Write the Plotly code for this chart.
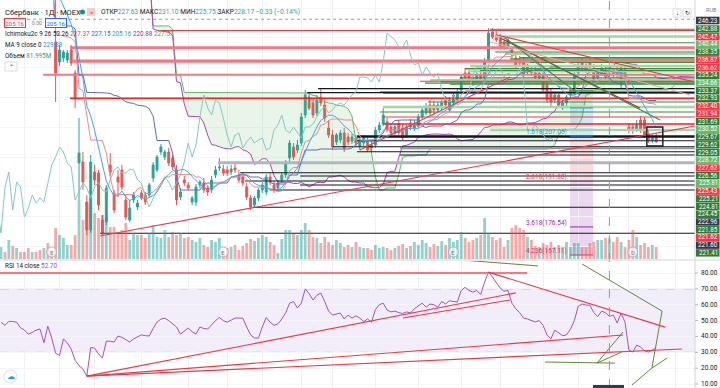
import pandas as pd
import plotly.graph_objects as go

W, H = 720, 388

# ---------------- price data (daily bars, RUB) ----------------
bars = list(range(169))
opens = [266.5, 268.0, 265.6, 268.8, 266.0, 267.0, 264.8, 263.0, 260.6, 262.0, 260.9, 259.3, 260.2, 256.7,
         238.60, 231.88, 233.22, 232.55, 235.91, 228.19, 197.99, 198.32, 184.90, 175.50, 194.97, 194.63, 178.86, 178.19,
         197.32, 187.92, 193.29, 195.64, 185.57, 178.86, 185.57, 183.22, 187.92, 187.25, 187.25, 192.95, 195.64, 201.68,
         200.00, 201.68, 199.66, 195.64, 186.58, 192.28, 190.60, 184.90, 184.90, 190.60, 191.28, 189.60, 188.93, 193.96,
         196.31, 195.97, 195.64, 194.97, 196.31, 193.96, 193.29, 189.93, 186.24, 183.89, 186.24, 188.93, 188.26, 193.29,
         190.60, 189.60, 192.28, 193.96, 199.66, 203.36, 202.35, 204.70, 214.10, 220.14, 218.12, 214.77, 220.14, 217.45,
         209.73, 207.38, 205.04, 205.71, 208.06, 206.71, 205.37, 206.38, 203.69, 204.70, 205.71, 204.03, 204.03, 209.06,
         211.08, 211.75, 210.07, 208.06, 211.08, 209.73, 207.38, 211.41, 209.73, 210.40, 213.42, 214.77, 217.45, 217.45,
         215.77, 216.44, 219.13, 215.77, 218.12, 219.13, 222.49, 228.19, 228.19, 226.51, 225.84, 227.52, 226.51, 232.55,
         241.95, 240.94, 240.27, 238.60, 236.92, 235.91, 233.22, 232.55, 231.88, 228.53, 229.20, 229.20, 226.51, 227.52,
         224.16, 221.82, 219.13, 220.81, 216.44, 218.12, 220.81, 221.82, 228.19, 231.88, 230.88, 231.88, 229.87, 226.51,
         228.19, 229.20, 227.63, 228.53, 229.20, 224.16, 229.20, 210.07, 210.07, 209.06, 212.42, 212.42, 207.38, 205.71, 207.05]
highs = [268.8, 268.6, 269.5, 269.2, 267.9, 267.4, 265.5, 263.6, 262.8, 262.5, 261.3, 261.0, 260.6, 258.9,
         254.0, 237.59, 235.91, 235.91, 237.59, 229.20, 213.09, 201.68, 187.25, 200.67, 197.32, 195.64, 180.54, 190.60,
         201.34, 188.93, 195.64, 197.32, 187.25, 185.57, 188.26, 185.57, 188.93, 188.26, 191.28, 198.32, 200.67, 204.36,
         202.35, 203.02, 200.67, 197.32, 189.60, 193.62, 191.61, 186.91, 190.94, 192.28, 192.95, 190.60, 193.62, 196.98,
         199.66, 197.32, 196.98, 197.32, 197.65, 195.64, 194.97, 191.28, 187.25, 186.91, 189.60, 191.61, 194.30, 194.63,
         191.95, 192.28, 194.97, 198.99, 205.71, 204.70, 205.71, 214.77, 222.49, 221.82, 219.80, 220.81, 223.16, 219.13,
         212.42, 209.06, 208.06, 209.06, 209.73, 208.06, 207.72, 207.38, 206.71, 207.38, 207.05, 205.37, 210.07, 211.75,
         216.44, 213.09, 211.41, 211.08, 212.42, 211.08, 210.74, 212.75, 212.42, 214.43, 216.44, 218.12, 219.13, 218.79,
         218.46, 219.13, 220.47, 220.14, 221.82, 223.16, 227.86, 229.87, 229.20, 227.86, 228.53, 228.53, 233.22, 243.29,
         243.29, 242.29, 241.28, 239.94, 240.27, 237.25, 234.57, 233.90, 233.22, 231.21, 230.54, 230.54, 229.87, 229.20,
         225.17, 223.16, 221.82, 221.82, 219.13, 220.81, 223.16, 228.53, 231.88, 233.22, 232.55, 233.22, 231.21, 229.87,
         231.21, 230.54, 231.10, 229.87, 230.54, 231.21, 230.54, 211.41, 211.08, 212.42, 213.76, 213.42, 208.73, 207.72, 208.06]
lows = [265.2, 265.0, 265.2, 265.4, 265.0, 264.2, 262.6, 260.1, 259.9, 260.2, 258.7, 258.6, 256.0, 255.8,
        218.46, 230.54, 231.88, 231.55, 230.54, 216.44, 185.57, 188.93, 173.82, 174.49, 190.60, 182.21, 173.49, 177.18,
        193.62, 181.21, 186.58, 188.93, 178.86, 178.19, 184.56, 182.21, 185.57, 183.89, 186.24, 191.61, 194.97, 200.67,
        198.99, 196.98, 195.64, 183.89, 185.57, 190.27, 188.93, 183.89, 183.56, 189.60, 187.92, 186.91, 187.92, 192.95,
        195.30, 193.62, 193.62, 193.96, 194.63, 191.28, 190.27, 185.57, 182.21, 182.88, 185.23, 187.92, 187.25, 190.60,
        187.92, 188.59, 191.28, 192.95, 198.32, 198.99, 201.34, 203.69, 213.09, 215.77, 213.09, 213.76, 217.12, 211.75,
        206.38, 202.35, 204.03, 204.70, 201.68, 204.03, 204.36, 203.69, 202.35, 203.69, 201.68, 201.68, 203.02, 208.06,
        210.40, 208.39, 206.71, 207.38, 207.38, 205.71, 206.38, 209.06, 208.73, 209.73, 212.75, 214.10, 213.76, 214.43,
        215.10, 215.77, 216.44, 215.10, 217.45, 218.46, 221.82, 225.84, 225.51, 223.83, 224.84, 224.16, 225.84, 231.55,
        239.60, 238.60, 235.91, 235.91, 236.25, 233.22, 229.87, 230.54, 226.51, 227.86, 227.18, 225.84, 225.84, 221.48,
        218.12, 217.12, 218.12, 216.44, 215.77, 217.12, 219.80, 220.81, 227.18, 229.20, 228.19, 229.20, 224.84, 225.84,
        227.18, 225.84, 225.75, 226.51, 226.51, 223.16, 224.84, 208.06, 207.72, 208.39, 208.06, 206.38, 204.70, 204.70, 204.70]
closes = [268.0, 265.8, 268.9, 266.0, 267.2, 264.8, 263.1, 260.6, 262.1, 260.9, 259.3, 260.4, 256.7, 258.2,
          228.19, 235.91, 235.24, 234.90, 231.55, 219.80, 201.34, 191.61, 175.50, 198.32, 192.28, 183.89, 174.49, 189.60,
          194.97, 182.21, 191.61, 189.93, 179.86, 182.88, 187.25, 184.56, 186.24, 184.90, 190.60, 197.32, 200.00, 203.36,
          201.68, 197.99, 196.64, 185.57, 188.26, 191.28, 189.60, 186.24, 189.93, 191.61, 188.93, 188.26, 192.28, 195.64,
          196.64, 194.63, 194.63, 195.97, 195.64, 192.28, 191.28, 186.58, 183.22, 186.24, 188.93, 190.60, 193.29, 191.61,
          188.93, 191.28, 193.96, 198.32, 204.70, 200.00, 204.03, 213.42, 220.81, 216.44, 214.10, 219.13, 218.12, 213.09,
          207.38, 203.36, 207.38, 208.06, 203.02, 205.04, 206.71, 204.70, 205.71, 206.38, 202.35, 203.02, 209.06, 210.74,
          214.10, 209.06, 208.06, 210.07, 208.06, 206.38, 210.07, 210.07, 211.08, 213.42, 215.77, 216.78, 214.77, 215.77,
          217.45, 218.12, 217.45, 219.13, 220.81, 221.82, 226.85, 226.85, 226.51, 225.17, 227.52, 225.17, 231.88, 241.62,
          240.27, 239.27, 236.92, 236.92, 239.27, 234.23, 230.88, 231.55, 227.52, 230.20, 228.19, 226.85, 228.19, 222.49,
          219.13, 218.46, 220.81, 217.45, 218.12, 220.14, 222.49, 227.52, 230.20, 230.20, 229.20, 230.20, 225.84, 229.20,
          229.87, 226.85, 228.17, 227.52, 227.52, 229.87, 225.84, 209.06, 209.06, 210.74, 209.06, 207.38, 205.71, 206.38, 205.16]
volume_m = [48, 28, 76, 52, 44, 28, 28, 44, 28, 28, 36, 44, 64, 28,
            124, 96, 84, 56, 56, 96, 236, 156, 224, 216, 184, 164, 176, 168,
            128, 128, 108, 116, 144, 76, 104, 96, 96, 84, 104, 136, 88, 84,
            116, 88, 108, 96, 104, 84, 88, 76, 68, 84, 56, 48, 76, 68,
            84, 28, 44, 48, 56, 36, 52, 64, 80, 72, 84, 96, 88, 68,
            56, 24, 80, 116, 116, 100, 96, 116, 144, 116, 88, 84, 64, 88,
            68, 56, 76, 64, 48, 56, 48, 68, 48, 44, 44, 36, 56, 44,
            48, 44, 36, 44, 52, 60, 44, 52, 68, 56, 76, 64, 48, 60,
            52, 72, 56, 84, 68, 76, 108, 84, 68, 76, 84, 96, 164, 104,
            88, 76, 84, 48, 76, 124, 136, 124, 116, 88, 76, 52, 48, 64,
            56, 68, 48, 56, 48, 68, 48, 64, 64, 48, 48, 64, 68, 76,
            76, 84, 81.995, 68, 88, 68, 48, 76, 116, 88, 56, 64, 48, 56, 48]
rsi14 = [49, 47, 49.5, 49.5, 49, 45.5, 44, 41.5, 42.5, 44, 44.7, 36, 46.5, 39,
         29.5, 28, 38.4, 36, 32, 25, 21.5, 19.5, 15, 33, 32.7, 29, 26.4,
         37, 37, 36.5, 40.3, 39.5, 38, 36.5, 38.5, 40, 41, 40.5, 40.3, 45, 49,
         51, 51.5, 50, 48, 46, 41.5, 43.5, 45.3, 43, 41.5, 46, 45, 44.7, 47.5, 50,
         52, 50, 49, 50.5, 51.6, 51.6, 51.5, 46, 41, 39, 39, 46, 52, 49, 47,
         48, 51, 55, 61, 62, 58, 61, 70, 67, 63, 66, 67.4, 62, 56, 53.5,
         54, 54.8, 51, 53.5, 51.6, 53, 51.6, 49.5, 51, 49, 57, 60, 61, 56.7, 55.5,
         56, 55, 54.5, 55.5, 54.8, 57.5, 59, 61, 58.5, 60.5, 60, 58.5, 62, 60.5, 62.5,
         62, 61.7, 69, 71, 69, 68, 69, 66.5, 74.3, 80.6, 77.5, 74, 70.5, 68.5, 69,
         61, 57.5, 55, 51.6, 51, 50, 49.2, 50, 47, 41, 38.5, 44, 42.5, 40.5, 41,
         44.5, 50, 59, 60.5, 59.8, 59.8, 55, 52.5, 56, 55, 52.7, 53.5, 48.5, 54.8, 49,
         31.4, 30.2, 34.6, 33.3, 31, 30.2, 31.4, 32.7]
for arr in (opens, highs, lows, closes, volume_m, rsi14):
    assert len(arr) == len(bars), len(arr)

# ---------------- user drawings ----------------
level_prices = [242.88, 242.47, 240.44, 238.35, 236.87, 236.62, 235.24, 234.66, 233.37, 232.93,
                232.40, 231.94, 231.69, 230.52, 229.67, 229.62, 229.05, 228.72, 227.62, 226.56,
                225.81, 225.43, 225.21, 224.81, 224.45, 222.96, 221.85, 221.62, 221.60, 221.41]
level_start = [125.4, 40.8, 126.7, 128, 17.7, 17.7, 126.7, 129.2, 133, 130.5,
               18.5, 18.5, 135.6, 120.3, 119, 119, 122.8, 120.3, 10.8, 117.7,
               110, 107.4, 112.6, 108.7, 115.1, 81.3, 97.2, 98, 78.5, 98]
level_kind = ["g", "r", "gl", "g", "rr", "rr", "g", "gl", "g", "g",
              "rr", "rr", "g", "gl", "g", "g", "g", "gl", "rr", "g",
              "gl", "r", "g", "g", "g", "k", "g", "r", "k", "g"]
extra_prices = [219.70, 218.46, 216.78, 215.10, 213.42, 211.08, 209.06, 206.90, 205.47, 203.46,
                202.92, 201.78, 200.67, 198.09, 194.73, 193.62, 191.95, 190.60, 188.93, 183.12, 174.39]
extra_start = [17.7, 109.5, 98, 97.2, 98, 98, 125.4, 91.3, 91.3, 85.1,
               102.3, 91.3, 102.3, 55.6, 61.3, 76.7, 62.6, 76.7, 69, 64.6, 25.4]
extra_kind = ["rb", "g", "gl", "g", "r", "rb", "gl", "kk", "k", "k",
              "gr", "k", "k", "grt", "k", "k", "k", "k", "k", "k", "k"]
crosshair_price = 246.23
crosshair_bar = 156

trend_b0 = [25.4, 92.0, 127.2, 128.0, 129.2, 130.5, 125.4]
trend_p0 = [173.49, 202.35, 240.94, 239.94, 239.94, 238.60, 238.60]
trend_b1 = [177.95, 130.5, 177.9, 163.8, 148.5, 169.0, 176.7]
trend_p1 = [210.40, 226.85, 225.17, 216.44, 220.81, 212.42, 220.81]
trend_kind = ["r", "r", "r", "dr", "g", "g", "lr"]

fib_ratio = ["0.618", "1", "1.618", "2.618", "3.618", "4.236"]
fib_price = [222.30, 216.47, 207.05, 191.80, 176.54, 167.11]
fib_bar0, fib_bar1 = 145.9, 151.8

box_bars = [165.6, 169.7]
box_prices = [203.69, 210.07]

rsi_line_b0 = [-0.26, 22, 22, 22, 103.1, 124.9]
rsi_line_v0 = [80.0, 15.0, 15.0, 15.0, 51.6, 80.6]
rsi_line_b1 = [134.9, 132.0, 159.5, 174.6, 130.5, 170.3]
rsi_line_v1 = [80.0, 67.5, 40.9, 32.1, 63.0, 45.9]
rsi_line_kind = ["rr", "r", "r", "r", "r", "r"]
rsi_g_b0 = [118.2, 149.0, 169.5, 139.5, 152.8, 152.8, 166.9, 161.8]
rsi_g_v0 = [88.2, 85.7, 56.0, 23.9, 23.2, 23.2, 20.1, 9.4]
rsi_g_b1 = [137.7, 169.5, 166.9, 157.4, 159.2, 159.5, 170.8, 166.9]
rsi_g_v1 = [84.5, 56.0, 20.1, 23.2, 30.2, 42.8, 26.4, 20.1]

event_bars = [13, 57, 116, 162]
event_kind = ["E", "E", "E", "D"]
grid_bars = [6, 15, 24, 36, 48, 58, 67, 77, 85, 96, 107, 118, 128, 139, 148, 161, 173]
rsi_ticks = [10, 20, 30, 40, 50, 60, 70, 80]

# ---------------- indicators from the bars ----------------
hs, ls, cs = pd.Series(highs), pd.Series(lows), pd.Series(closes)


def mid(n):
    return ((hs.rolling(n, min_periods=1).max() + ls.rolling(n, min_periods=1).min()) / 2).tolist()


tenkan = mid(9)
kijun = mid(26)
lead_a = [(a + b) / 2 for a, b in zip(tenkan, kijun)]
lead_b = mid(52)
ma9 = cs.rolling(9).mean().tolist()
disp = 26
lead_x = [b + disp - 1 for b in bars]
lag_x = [b - disp for b in bars]

STY = {
    "r": ("#f23645", 1.1), "rr": ("#f7767f", 2.0), "rb": ("#ff1a1a", 1.4), "dr": ("#b22833", 1.1),
    "lr": ("#f5a3a8", 1.0), "g": ("#388e3c", 1.1), "gl": ("#a5d6a7", 2.4), "k": ("#131722", 1.1),
    "kk": ("#131722", 2.4), "gr": ("#9598a1", 1.8), "grt": ("#b2b5be", 3.0),
}
TAG = {"g": "#2e7d32", "gl": "#66bb6a", "r": "#f23645", "rr": "#f23645", "k": "#363a45"}

UP, DN = "#26a69a", "#ef5350"
XEND = 178.5

fig = go.Figure()

fig.add_trace(go.Scatter(x=lead_x, y=lead_b, mode="lines", line=dict(color="#66bb6a", width=1),
                         hoverinfo="skip"))
fig.add_trace(go.Scatter(x=lead_x, y=lead_a, mode="lines", line=dict(color="#ab47bc", width=1),
                         fill="tonexty", fillcolor="rgba(76,175,80,0.13)", hoverinfo="skip"))

vol_colors = ["rgba(38,166,154,0.5)" if c >= o else "rgba(239,83,80,0.5)" for o, c in zip(opens, closes)]
fig.add_trace(go.Bar(x=bars, y=volume_m, marker=dict(color=vol_colors, line=dict(width=0)), width=0.72,
                     yaxis="y2", hoverinfo="skip"))

groups = {}
for p, s, k in list(zip(level_prices, level_start, level_kind)) + list(zip(extra_prices, extra_start, extra_kind)):
    gx, gy = groups.setdefault(k, ([], []))
    gx += [s, XEND, None]
    gy += [p, p, None]
for k in ["gl", "grt", "gr", "rr", "g", "r", "rb", "k", "kk"]:
    if k in groups:
        c, w = STY[k]
        fig.add_trace(go.Scatter(x=groups[k][0], y=groups[k][1], mode="lines", line=dict(color=c, width=w),
                                 hoverinfo="skip"))

fig.add_trace(go.Scatter(x=lag_x, y=closes, mode="lines", line=dict(color="#80cbc4", width=1), hoverinfo="skip"))
fig.add_trace(go.Scatter(x=bars, y=kijun, mode="lines", line=dict(color="#5c6bc0", width=1), hoverinfo="skip"))
fig.add_trace(go.Scatter(x=bars, y=tenkan, mode="lines", line=dict(color="#f28b8b", width=1), hoverinfo="skip"))
fig.add_trace(go.Scatter(x=bars, y=ma9, mode="lines", line=dict(color="#42a5f5", width=1), hoverinfo="skip"))

fib_fill = ["rgba(120,160,120,0.22)", "rgba(33,150,243,0.22)", "rgba(242,54,69,0.18)",
            "rgba(156,39,176,0.18)", "rgba(156,39,176,0.2)"]
for i in range(len(fib_price) - 1):
    fig.add_shape(type="rect", xref="x", yref="y", x0=fib_bar0, x1=fib_bar1, y0=fib_price[i + 1],
                  y1=fib_price[i], fillcolor=fib_fill[i], line=dict(width=0), layer="below")
fib_col = ["#4caf50", "#2196f3", "#2196f3", "#f23645", "#9c27b0", "#e91e63"]
for r, p, c in zip(fib_ratio, fib_price, fib_col):
    fig.add_trace(go.Scatter(x=[fib_bar0, fib_bar1], y=[p, p], mode="lines", line=dict(color=c, width=1),
                             hoverinfo="skip"))
    if r not in ("0.618", "1"):
        fig.add_annotation(x=fib_bar0 - 0.3, y=p, xref="x", yref="y", text=f"{r}({p:.2f})", showarrow=False,
                           xanchor="right", yanchor="bottom", font=dict(size=6.5, color=c), yshift=-2)

fig.add_trace(go.Candlestick(x=bars, open=opens, high=highs, low=lows, close=closes,
                             increasing=dict(line=dict(color=UP, width=1), fillcolor=UP),
                             decreasing=dict(line=dict(color=DN, width=1), fillcolor=DN),
                             whiskerwidth=0, hoverinfo="skip"))

for b0, p0, b1, p1, k in zip(trend_b0, trend_p0, trend_b1, trend_p1, trend_kind):
    c, w = STY[k]
    fig.add_trace(go.Scatter(x=[b0, b1], y=[p0, p1], mode="lines", line=dict(color=c, width=w), hoverinfo="skip"))

fig.add_shape(type="rect", xref="x", yref="y", x0=box_bars[0], x1=box_bars[1], y0=box_prices[0],
              y1=box_prices[1], line=dict(color="#131722", width=1.4))

fig.add_trace(go.Scatter(x=[-1, XEND], y=[crosshair_price, crosshair_price], mode="lines",
                         line=dict(color="#9598a1", width=1, dash="dot"), hoverinfo="skip"))

# ---------------- RSI pane ----------------
fig.add_shape(type="rect", xref="paper", yref="y3", x0=0, x1=695 / W, y0=30, y1=70,
              fillcolor="rgba(126,87,194,0.1)", line=dict(width=0), layer="below")
for v in (70, 30):
    fig.add_shape(type="line", xref="paper", yref="y3", x0=0, x1=695 / W, y0=v, y1=v,
                  line=dict(color="#b7a8d8", width=1, dash="dash"), layer="below")
fig.add_trace(go.Scatter(x=bars, y=rsi14, mode="lines", line=dict(color="#a64fc9", width=1),
                         xaxis="x2", yaxis="y3", hoverinfo="skip"))
for b0, v0, b1, v1, k in zip(rsi_line_b0, rsi_line_v0, rsi_line_b1, rsi_line_v1, rsi_line_kind):
    c, w = STY[k]
    fig.add_trace(go.Scatter(x=[b0, b1], y=[v0, v1], mode="lines", line=dict(color=c, width=w),
                             xaxis="x2", yaxis="y3", hoverinfo="skip"))
for b0, v0, b1, v1 in zip(rsi_g_b0, rsi_g_v0, rsi_g_b1, rsi_g_v1):
    fig.add_trace(go.Scatter(x=[b0, b1], y=[v0, v1], mode="lines", line=dict(color="#5d8a3a", width=1),
                             xaxis="x2", yaxis="y3", hoverinfo="skip"))

fig.add_shape(type="line", xref="x", yref="paper", x0=crosshair_bar, x1=crosshair_bar, y0=0, y1=1,
              line=dict(color="#9598a1", width=1, dash="dash"))


def X(px):
    return px / W


def Y(py):
    return 1 - py / H


def note(x, y, text, size, color, xref="paper", yref="paper", **kw):
    fig.add_annotation(x=x, y=y, xref=xref, yref=yref, text=text, showarrow=False,
                       xanchor=kw.pop("xanchor", "center"), yanchor=kw.pop("yanchor", "middle"),
                       font=dict(size=size, color=color), **kw)


fig.add_shape(type="line", xref="paper", yref="paper", x0=0, x1=1, y0=Y(260), y1=Y(260),
              line=dict(color="#d1d4dc", width=1.2))
fig.add_shape(type="line", xref="paper", yref="paper", x0=X(695), x1=X(695), y0=0, y1=1,
              line=dict(color="#d1d4dc", width=1))

for b, e in zip(event_bars, event_kind):
    fig.add_shape(type="circle", xref="x", yref="paper", xsizemode="pixel", ysizemode="pixel",
                  xanchor=b, yanchor=Y(252), x0=-5, x1=5, y0=-5, y1=5,
                  line=dict(color="#b2b5be", width=1), fillcolor="rgba(255,255,255,0.6)")
    note(b, Y(252), e, 6, "#787b86", xref="x")

# right scale tags
for k, (p, kind) in enumerate(zip(level_prices, level_kind)):
    yc = 29 + 7.72 * k
    fig.add_shape(type="rect", xref="paper", yref="paper", x0=X(696), x1=X(719.5), y0=Y(yc + 3.7),
                  y1=Y(yc - 3.7), fillcolor=TAG[kind], line=dict(width=0))
    note(X(708), Y(yc), f"{p:.2f}", 6.3, "white")
fig.add_shape(type="rect", xref="paper", yref="paper", x0=X(696), x1=X(719.5), y0=Y(24.3), y1=Y(16.7),
              fillcolor="#363a45", line=dict(width=0))
note(X(708), Y(20.5), f"{crosshair_price:.2f}", 6.3, "white")
note(X(711), Y(9.5), "RUB", 5.5, "#787b86")
for px, t in ((677, "↓"), (687, "↻")):
    fig.add_shape(type="rect", xref="paper", yref="paper", x0=X(px - 4), x1=X(px + 4), y0=Y(17), y1=Y(9),
                  line=dict(color="#d1d4dc", width=0.8), fillcolor="white")
    note(X(px), Y(13), t, 6, "#131722")
for v in rsi_ticks:
    note(X(709), v, f"{v:.2f}", 6.5, "#131722", yref="y3")
    fig.add_shape(type="line", xref="paper", yref="y3", x0=X(695), x1=X(698), y0=v, y1=v,
                  line=dict(color="#b2b5be", width=1))
fig.add_shape(type="rect", xref="paper", yref="paper", x0=X(593), x1=X(624), y0=0, y1=Y(385),
              fillcolor="#363a45", line=dict(width=0))

FONT = "Roboto, Arial, sans-serif"
TXT = "#131722"


def leg(px, py, text, size=7):
    fig.add_annotation(x=X(px), y=Y(py), xref="paper", yref="paper", text=text, showarrow=False,
                       xanchor="left", yanchor="middle", align="left",
                       font=dict(size=size, color=TXT, family=FONT))


def sp(c, t):
    return f"<span style='color:{c}'>{t}</span>"


leg(3, 12, "Сбербанк · 1Д · MOEX", 7.5)
fig.add_shape(type="circle", xref="paper", yref="paper", x0=X(80), x1=X(85), y0=Y(14.5), y1=Y(9.5),
              fillcolor="#089981", line=dict(width=0))
fig.add_shape(type="rect", xref="paper", yref="paper", x0=X(87), x1=X(95), y0=Y(16), y1=Y(8),
              fillcolor="#fccbcd", line=dict(width=0))
note(X(91), Y(12), "=", 6, "#f23645")
leg(99, 12, "ОТКР" + sp(UP, "227.63") + " МАКС" + sp(UP, "231.10") + " МИН" + sp(UP, "225.75") +
    " ЗАКР" + sp(UP, "228.17") + " " + sp(UP, "−0.33 (−0.14%)"), 6.6)
note(X(15), Y(22.5), "205.16", 6, "#f23645", bordercolor="#f23645", borderwidth=1, borderpad=0.5,
     bgcolor="white")
leg(30, 22.5, sp("#787b86", "0.00"), 5)
note(X(56), Y(22.5), "205.16", 6, "#2962ff", bordercolor="#2962ff", borderwidth=1, borderpad=0.5,
     bgcolor="white")
leg(3, 34, "Ichimoku2c 9 26 52 26 " + sp("#f23645", "227.37") + " " + sp("#2962ff", "227.15") + " " +
    sp("#26a69a", "205.16") + " " + sp("#9c27b0", "220.88") + " " + sp("#43a047", "227.57"), 6.3)
leg(3, 45, "MA 9 close 0 " + sp("#2196f3", "229.39"), 6.3)
leg(3, 56, "Объем " + sp(UP, "81.995M"), 6.3)
fig.add_shape(type="rect", xref="paper", yref="paper", x0=X(5), x1=X(17), y0=Y(71), y1=Y(62),
              line=dict(color="#d1d4dc", width=0.8), fillcolor="white")
note(X(11), Y(66.5), "⌃", 6, TXT)
leg(3, 266, "RSI 14 close " + sp("#7e57c2", "52.70"), 6.3)
fig.add_shape(type="circle", xref="paper", yref="paper", x0=X(4), x1=X(17), y0=Y(383), y1=Y(370),
              line=dict(color="#d1d4dc", width=0.8), fillcolor="white")
note(X(10.5), Y(376.5), "☁", 8, "#2196f3")

fig.update_layout(
    width=W, height=H, margin=dict(l=0, r=0, t=0, b=0),
    paper_bgcolor="white", plot_bgcolor="white", showlegend=False,
    font=dict(family=FONT, color=TXT),
    xaxis=dict(domain=[0, 695 / W], range=[-0.26, 177.95], showticklabels=False, tickvals=grid_bars,
               showgrid=True, gridcolor="#eef0f6", zeroline=False, rangeslider=dict(visible=False),
               anchor="y"),
    yaxis=dict(domain=[1 - 259 / H, 1], range=[165.77, 252.69], showticklabels=False, showgrid=True,
               gridcolor="#f4f5f9", dtick=10, zeroline=False, side="right", anchor="x"),
    yaxis2=dict(overlaying="y", range=[0, 1036], visible=False, anchor="x"),
    xaxis2=dict(domain=[0, 695 / W], range=[-0.26, 177.95], matches="x", anchor="y3", showticklabels=False,
                tickvals=grid_bars, showgrid=True, gridcolor="#eef0f6", zeroline=False),
    yaxis3=dict(domain=[0, 1 - 261 / H], range=[7.5, 87.6], side="right", tickvals=rsi_ticks,
                showticklabels=False, showgrid=True, gridcolor="#f4f5f9", zeroline=False, anchor="x2"),
)

fig.write_html("out.html", config={"displayModeBar": False},
               post_script="document.body.style.margin='0';document.body.style.padding='0';"
                           "document.body.style.overflow='hidden';")
